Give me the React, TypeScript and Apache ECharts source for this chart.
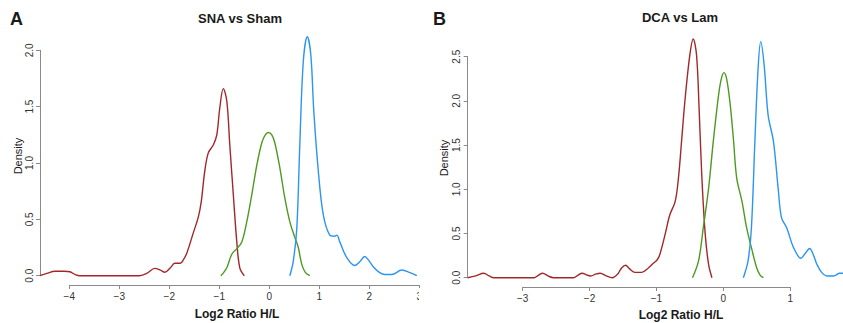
import React, { useEffect, useRef } from "react";
import * as echarts from "echarts";

// ---- data (Log2 ratio H/L, density) ----
const snaRed: number[][] = [
  [-4.59, 0.0], [-4.45, 0.02], [-4.29, 0.04], [-4.1, 0.04], [-3.99, 0.035], [-3.88, 0.01], [-3.79, 0.0],
  [-2.6, 0.0], [-2.45, 0.02], [-2.29, 0.065], [-2.18, 0.05], [-2.09, 0.03], [-1.98, 0.07], [-1.89, 0.11],
  [-1.78, 0.11], [-1.72, 0.14], [-1.65, 0.2], [-1.52, 0.38], [-1.42, 0.52], [-1.36, 0.66], [-1.29, 0.93],
  [-1.22, 1.09], [-1.12, 1.16], [-1.05, 1.25], [-0.99, 1.49], [-0.92, 1.66], [-0.85, 1.55], [-0.79, 1.16],
  [-0.72, 0.72], [-0.65, 0.3], [-0.59, 0.07], [-0.5, 0.0],
];
const snaGreen: number[][] = [
  [-0.97, 0.0], [-0.91, 0.03], [-0.85, 0.07], [-0.75, 0.19], [-0.65, 0.24], [-0.55, 0.3], [-0.45, 0.48],
  [-0.35, 0.72], [-0.25, 0.98], [-0.15, 1.18], [-0.08, 1.25], [-0.02, 1.27], [0.05, 1.25], [0.11, 1.18],
  [0.21, 0.96], [0.31, 0.69], [0.41, 0.48], [0.51, 0.34], [0.58, 0.25], [0.65, 0.1], [0.72, 0.03], [0.81, 0.0],
];
const snaBlue: number[][] = [
  [0.41, 0.0], [0.48, 0.13], [0.55, 0.42], [0.61, 1.16], [0.68, 1.9], [0.76, 2.12], [0.83, 1.96],
  [0.89, 1.46], [0.98, 0.93], [1.08, 0.54], [1.21, 0.36], [1.3, 0.35], [1.35, 0.36], [1.41, 0.3],
  [1.55, 0.16], [1.71, 0.09], [1.8, 0.12], [1.91, 0.17], [1.98, 0.14], [2.08, 0.08], [2.2, 0.03],
  [2.31, 0.01], [2.45, 0.01], [2.65, 0.05], [2.8, 0.03], [2.95, 0.0],
];
const dcaRed: number[][] = [
  [-3.82, 0.0], [-3.7, 0.02], [-3.58, 0.05], [-3.5, 0.02], [-3.43, 0.0], [-2.83, 0.0], [-2.76, 0.03],
  [-2.7, 0.05], [-2.62, 0.02], [-2.54, 0.0], [-2.24, 0.0], [-2.17, 0.03], [-2.11, 0.05], [-2.04, 0.03],
  [-1.98, 0.02], [-1.91, 0.04], [-1.84, 0.05], [-1.75, 0.02], [-1.66, 0.0], [-1.58, 0.04], [-1.52, 0.11],
  [-1.46, 0.14], [-1.4, 0.1], [-1.32, 0.06], [-1.22, 0.06], [-1.12, 0.11], [-1.05, 0.16], [-0.99, 0.2],
  [-0.95, 0.26], [-0.87, 0.49], [-0.8, 0.71], [-0.72, 0.86], [-0.67, 1.13], [-0.62, 1.58], [-0.57, 2.03],
  [-0.5, 2.52], [-0.45, 2.7], [-0.4, 2.52], [-0.36, 1.88], [-0.32, 1.13], [-0.27, 0.49], [-0.22, 0.15],
  [-0.17, 0.0],
];
const dcaGreen: number[][] = [
  [-0.46, 0.0], [-0.37, 0.19], [-0.3, 0.56], [-0.22, 1.01], [-0.15, 1.54], [-0.07, 2.07], [-0.03, 2.25],
  [0.01, 2.32], [0.05, 2.25], [0.1, 1.98], [0.15, 1.58], [0.2, 1.13], [0.28, 0.86], [0.35, 0.56],
  [0.42, 0.34], [0.5, 0.11], [0.55, 0.03], [0.6, 0.0],
];
const dcaBlue: number[][] = [
  [0.3, 0.0], [0.37, 0.19], [0.42, 0.56], [0.47, 1.5], [0.52, 2.37], [0.56, 2.67], [0.61, 2.41],
  [0.67, 1.84], [0.75, 1.54], [0.82, 1.01], [0.87, 0.68], [0.95, 0.56], [1.05, 0.34], [1.16, 0.22],
  [1.22, 0.27], [1.29, 0.33], [1.35, 0.25], [1.4, 0.15], [1.47, 0.06], [1.55, 0.02], [1.65, 0.02],
  [1.74, 0.05], [1.8, 0.05], [1.88, 0.03],
];

const titleA = "SNA vs Sham";
const titleB = "DCA vs Lam";
const xTitle = "Log2 Ratio H/L";
const yTitle = "Density";

const RED = "#a0282a";
const GREEN = "#4d9a21";
const BLUE = "#2b95f2";
const AXIS = "#8a8a8a";
const FONT = "Liberation Sans, Arial, sans-serif";

// panel geometry (pixel layout, not data)
const A = { x0: 269.3, ppx: 50, y0: 275.7, ppy: 112.7, left: 40, right: 420, top: 28, bottom: 285, xt: [-4, 3], yt: [0, 2] };
const B = { x0: 723.3, ppx: 66.9, y0: 277.7, ppy: 88.4, left: 467.7, right: 843, top: 29.3, bottom: 287, xt: [-3, 1], yt: [0, 2.5] };

const minus = (v: number, d: number) => v.toFixed(d).replace("-", "\u2212");

export default function App() {
  const ref = useRef<HTMLDivElement>(null);
  useEffect(() => {
    if (!ref.current) return;
    const chart = echarts.init(ref.current, undefined, { renderer: "svg" });
    const grids: any[] = [];
    const xAxes: any[] = [];
    const yAxes: any[] = [];
    const series: any[] = [];
    const hidden = { show: false };
    const panel = (P: typeof A, lines: [number[][], string][]) => {
      const g = grids.length;
      // plot grid
      grids.push({ left: P.left, top: P.top, width: P.right - P.left, height: P.bottom - P.top });
      xAxes.push({ gridIndex: g, type: "value", min: (P.left - P.x0) / P.ppx, max: (P.right - P.x0) / P.ppx, ...hidden, splitLine: { show: false } });
      yAxes.push({ gridIndex: g, type: "value", min: (P.y0 - P.bottom) / P.ppy, max: (P.y0 - P.top) / P.ppy, ...hidden, splitLine: { show: false } });
      lines.forEach(([d, c]) =>
        series.push({
          type: "line", xAxisIndex: g, yAxisIndex: g, data: d, smooth: 0.35, showSymbol: false,
          lineStyle: { color: c, width: 1.4 }, clip: true, silent: true,
        })
      );
      // x axis grid
      const xl = P.x0 + P.xt[0] * P.ppx;
      const xr = P.x0 + P.xt[1] * P.ppx;
      grids.push({ left: xl, top: P.bottom - 10, width: xr - xl, height: 10 });
      xAxes.push({
        gridIndex: g + 1, type: "value", min: P.xt[0], max: P.xt[1], interval: 1, position: "bottom",
        axisLine: { show: true, onZero: false, lineStyle: { color: AXIS, width: 1 } },
        axisTick: { show: true, length: 4, lineStyle: { color: AXIS } },
        axisLabel: { color: "#333", fontSize: 10, fontFamily: FONT, margin: 6, formatter: (v: number) => minus(v, 0) },
        splitLine: { show: false },
      });
      yAxes.push({ gridIndex: g + 1, type: "value", ...hidden, splitLine: { show: false } });
      // y axis grid
      const yt = P.y0 - P.yt[1] * P.ppy;
      const yb = P.y0 - P.yt[0] * P.ppy;
      grids.push({ left: P.left, top: yt, width: 10, height: yb - yt });
      xAxes.push({ gridIndex: g + 2, type: "value", ...hidden, splitLine: { show: false } });
      yAxes.push({
        gridIndex: g + 2, type: "value", min: P.yt[0], max: P.yt[1], interval: 0.5, position: "left",
        axisLine: { show: true, onZero: false, lineStyle: { color: AXIS, width: 1 } },
        axisTick: { show: true, length: 4, lineStyle: { color: AXIS } },
        axisLabel: { color: "#333", fontSize: 10, fontFamily: FONT, margin: 6, rotate: 90, formatter: (v: number) => minus(v, 1) },
        splitLine: { show: false },
      });
    };
    panel(A, [[snaRed, RED], [snaGreen, GREEN], [snaBlue, BLUE]]);
    panel(B, [[dcaRed, RED], [dcaGreen, GREEN], [dcaBlue, BLUE]]);

    const txt = (text: string, x: number, y: number, size: number, bold: boolean, rot = 0, align = "center") => ({
      type: "text", x, y, rotation: rot, z: 10,
      style: { text, fill: "#1a1a1a", font: `${bold ? "bold " : ""}${size}px ${FONT}`, textAlign: align, textVerticalAlign: "middle" },
    });

    chart.setOption({
      animation: false,
      backgroundColor: "#fff",
      grid: grids,
      xAxis: xAxes,
      yAxis: yAxes,
      series,
      graphic: [
        { type: "rect", shape: { x: 419, y: 288, width: 10, height: 20 }, style: { fill: "#fff" }, z: 20 },
        txt("A", 10, 19, 18, true, 0, "left"),
        txt("B", 433, 19, 18, true, 0, "left"),
        txt(titleA, 240, 18, 13, true),
        txt(titleB, 680, 17, 13, true),
        txt(xTitle, 237, 314, 12, true),
        txt(xTitle, 681, 315, 12, true),
        txt(yTitle, 18, 156, 11, false, Math.PI / 2),
        txt(yTitle, 444, 158, 11, false, Math.PI / 2),
      ],
    });
    return () => chart.dispose();
  }, []);
  return <div ref={ref} style={{ position: "fixed", left: 0, top: 0, width: 843, height: 323 }} />;
}
